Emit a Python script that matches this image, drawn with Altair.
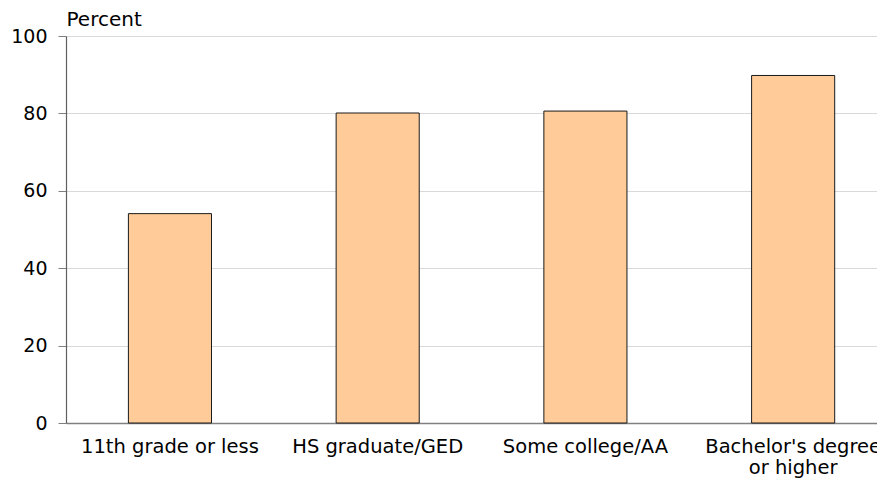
import altair as alt
import pandas as pd

categories = ["11th grade or less", "HS graduate/GED", "Some college/AA", "Bachelor's degree or higher"]
values = [54.1, 80.1, 80.6, 89.8]
y_ticks = [0, 20, 40, 60, 80, 100]

df = pd.DataFrame({"cat": categories, "pct": values})

label_expr = (
    "datum.value == \"Bachelor's degree or higher\" ? "
    "[\"Bachelor's degree\", \"or higher\"] : datum.value"
)

font = "DejaVu Sans"

chart = alt.Chart(df).mark_bar(
    fill="#FFCC99", stroke="#1a1a1a", strokeWidth=1
).encode(
    x=alt.X(
        "cat:N",
        sort=categories,
        scale=alt.Scale(paddingInner=0.6, paddingOuter=0.252, align=0.596),
        axis=alt.Axis(
            title=None, labelAngle=0, ticks=False, labelPadding=14,
            labelFont=font, labelFontSize=19.5, labelColor="#000000",
            labelLineHeight=21.5, labelExpr=label_expr, labelOverlap=False,
            domainColor="#808080", domainWidth=1.5, labelLimit=0,
        ),
    ),
    y=alt.Y(
        "pct:Q",
        scale=alt.Scale(domain=[0, 100], nice=False),
        axis=alt.Axis(
            values=y_ticks, title="Percent", titleAngle=0, titleAlign="left",
            titleBaseline="alphabetic", titleX=0, titleY=-11,
            titleFont=font, titleFontSize=20, titleFontWeight="normal",
            titleColor="#000000",
            labelFont=font, labelFontSize=19, labelColor="#000000",
            labelPadding=11, tickSize=8, tickColor="#808080",
            domainColor="#606060", domainWidth=1.2,
            grid=True, gridColor="#d9d9d9", gridWidth=1,
        ),
    ),
).properties(
    width=811,
    height=387,
    autosize=alt.AutoSizeParams(type="none"),
    padding={"left": 58, "top": 28, "right": 0, "bottom": 56},
).configure_view(stroke=None)

chart.save("out.html", embed_options={"renderer": "svg", "actions": False})
